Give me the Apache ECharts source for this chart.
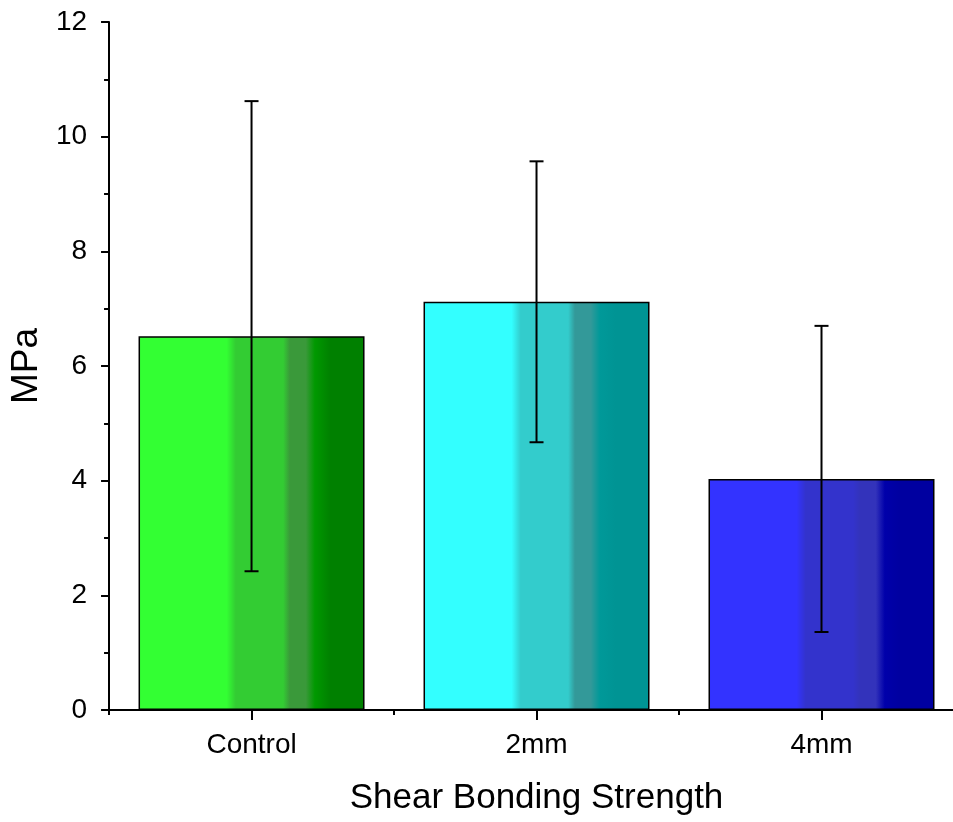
<!DOCTYPE html>
<html>
<head>
<meta charset="utf-8">
<script src="https://cdn.jsdelivr.net/npm/echarts@6/dist/echarts.min.js"></script>
<style>
  html, body { margin: 0; padding: 0; background: #fff; overflow: hidden; }
  /* 画布比窗口略宽，最右侧的类别边界落在窗口外 */
  #main { width: 964px; height: 822px; }
</style>
</head>
<body>
<div id="main"></div>
<script>
// 数据
const categories = ['Control', '2mm', '4mm'];
const means = [6.52, 7.12, 4.03];
const errors = [4.10, 2.45, 2.67];
const yTicks = [0, 2, 4, 6, 8, 10, 12];

// 每根柱子的分段渐变色
const barColors = [
    ['#33ff33', '#33cc33', '#3a993a', '#009900', '#008000'],
    ['#33ffff', '#33cccc', '#339999', '#009999', '#009494'],
    ['#3333ff', '#3333cc', '#3333bb', '#0000aa', '#0000a0']
];

function bandGradient(c) {
    return {
        type: 'linear', x: 0, y: 0, x2: 1, y2: 0,
        colorStops: [
            { offset: 0, color: c[0] },
            { offset: 0.39, color: c[0] },
            { offset: 0.43, color: c[1] },
            { offset: 0.64, color: c[1] },
            { offset: 0.67, color: c[2] },
            { offset: 0.74, color: c[2] },
            { offset: 0.78, color: c[3] },
            { offset: 0.85, color: c[4] },
            { offset: 1, color: c[4] }
        ]
    };
}

const font = 'Liberation Sans, Arial, sans-serif';

const chart = echarts.init(document.getElementById('main'));

const option = {
    backgroundColor: '#fff',
    animation: false,
    grid: { left: 109, right: 0, top: 22, bottom: 112 },
    xAxis: [
        {
            type: 'category',
            data: categories,
            name: 'Shear Bonding Strength',
            nameLocation: 'middle',
            nameGap: 71,
            nameTextStyle: { fontSize: 35, color: '#000', fontFamily: font },
            axisLine: { show: true, lineStyle: { color: '#000', width: 2 } },
            axisTick: { show: true, alignWithLabel: true, length: 10, lineStyle: { color: '#000', width: 2 } },
            axisLabel: { fontSize: 28, color: '#000', fontFamily: font, margin: 21 },
            splitLine: { show: false }
        },
        {
            type: 'category',
            data: categories,
            position: 'bottom',
            axisLine: { show: false },
            axisTick: { show: true, length: 5, lineStyle: { color: '#000', width: 2 } },
            axisLabel: { show: false },
            splitLine: { show: false }
        }
    ],
    yAxis: {
        type: 'value',
        min: yTicks[0],
        max: yTicks[yTicks.length - 1],
        interval: 2,
        name: 'MPa',
        nameLocation: 'middle',
        nameGap: 61,
        nameTextStyle: { fontSize: 37, color: '#000', fontFamily: font },
        axisLine: { show: true, lineStyle: { color: '#000', width: 2 } },
        axisTick: { show: true, length: 8, lineStyle: { color: '#000', width: 2 } },
        minorTick: { show: true, splitNumber: 2, length: 5, lineStyle: { color: '#000', width: 2 } },
        axisLabel: { fontSize: 28, color: '#000', fontFamily: font, margin: 22 },
        splitLine: { show: false }
    },
    series: [
        {
            type: 'bar',
            barWidth: 226,
            data: means.map((v, i) => ({
                value: v,
                itemStyle: { color: bandGradient(barColors[i]), borderColor: '#000', borderWidth: 1.5 }
            }))
        },
        {
            type: 'custom',
            z: 5,
            data: means.map((v, i) => [i, v - errors[i], v + errors[i]]),
            renderItem: function(params, api) {
                const x = api.value(0);
                const lo = api.coord([x, api.value(1)]);
                const hi = api.coord([x, api.value(2)]);
                const cap = 7;
                const style = { stroke: '#000', lineWidth: 2 };
                return {
                    type: 'group',
                    children: [
                        { type: 'line', shape: { x1: hi[0], y1: hi[1], x2: lo[0], y2: lo[1] }, style: style },
                        { type: 'line', shape: { x1: hi[0] - cap, y1: hi[1], x2: hi[0] + cap, y2: hi[1] }, style: style },
                        { type: 'line', shape: { x1: lo[0] - cap, y1: lo[1], x2: lo[0] + cap, y2: lo[1] }, style: style }
                    ]
                };
            }
        }
    ]
};

chart.setOption(option);
</script>
</body>
</html>
